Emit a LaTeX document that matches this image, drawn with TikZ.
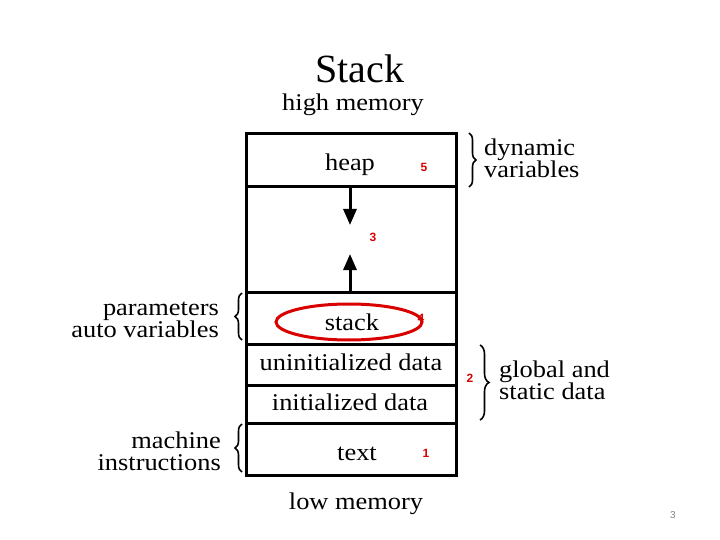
\documentclass[tikz,border=0pt]{standalone}
\usepackage{fontspec}
\setmainfont{Liberation Serif}
\newfontfamily\numfont{Liberation Sans}
\newfontfamily\lblfont[FakeStretch=1.1]{Liberation Serif}
\usetikzlibrary{arrows.meta,decorations.pathreplacing}
\begin{document}
\begin{tikzpicture}[x=1pt,y=-1pt,
  seg/.style={draw=black,line width=3pt,minimum width=210pt,inner sep=0pt,outer sep=0pt},
  lbl/.style={font=\lblfont\fontsize{24}{22}\selectfont,inner sep=0pt},
  rednum/.style={font=\numfont\bfseries\fontsize{12}{12}\selectfont,text=red!85!black,inner sep=0pt},
  growarrow/.style={line width=3pt,-{Triangle[width=13pt,length=16pt]}},
  bracestyle/.style={decorate,decoration={brace,amplitude=7pt},line width=1.6pt}]
\useasboundingbox (0,0) rectangle (720,540);
% segments
\node[seg,minimum height=53pt] (heap) at (351,160.5) {};
\node[seg,minimum height=105pt] (gap) at (351,239.5) {};
\node[seg,minimum height=52pt] (stack) at (351,318) {};
\node[seg,minimum height=41pt] (uninit) at (351,364.5) {};
\node[seg,minimum height=38pt] (init) at (351,404) {};
\node[seg,minimum height=52pt] (text) at (351,449) {};
% texts
\node[lbl] (heapt) at (350,165) {heap};
\node[lbl] (stackt) at (352,322) {stack};
\node[lbl] (uninitt) at (351,362) {uninitialized data};
\node[lbl] (initt) at (350,402) {initialized data};
\node[lbl] (textt) at (357,454) {text};
\node[font=\fontsize{40}{40}\selectfont,inner sep=0pt] (title) at (360,69) {Stack};
\node[lbl] (high) at (353,105) {high memory};
\node[lbl] (low) at (356,504) {low memory};
% arrows
\coordinate (dtip) at (350,225);
\coordinate (utip) at (350,254);
\draw[growarrow] (heap.south -| dtip) -- (dtip);
\draw[growarrow] (stack.north -| utip) -- (utip);
% red numbers
\node[rednum] (n5) at (424,167) {5};
\node[rednum] (n3) at (373,237) {3};
\node[rednum] (n4) at (421,318) {4};
\node[rednum] (n2) at (470,378) {2};
\node[rednum] (n1) at (426,453) {1};
% red ellipse
\draw[red!85!black,line width=3pt] (349,322) ellipse [x radius=73pt,y radius=18pt];
% braces
\coordinate (b1a) at (469,133); \coordinate (b1b) at (469,187);
\draw[bracestyle] (b1a) -- (b1b);
\node[lbl,anchor=west,align=left] (dyn) at (484,158) {dynamic\\variables};
\coordinate (b2a) at (480,345); \coordinate (b2b) at (480,420);
\draw[bracestyle,decoration={amplitude=9pt}] (b2a) -- (b2b);
\node[lbl,anchor=west,align=left] (glob) at (499,380) {global and\\static data};
\coordinate (b3a) at (242,340); \coordinate (b3b) at (242,293);
\draw[bracestyle] (b3a) -- (b3b);
\node[lbl,anchor=east,align=right] (param) at (219,320) {parameters\\auto variables};
\coordinate (b4a) at (242,472); \coordinate (b4b) at (242,424);
\draw[bracestyle] (b4a) -- (b4b);
\node[lbl,anchor=east,align=right] (mach) at (221,451) {machine\\instructions};
% page number
\node[font=\numfont\fontsize{10}{10}\selectfont,text=gray,inner sep=0pt] (pg) at (673,515) {3};
\end{tikzpicture}
\end{document}
